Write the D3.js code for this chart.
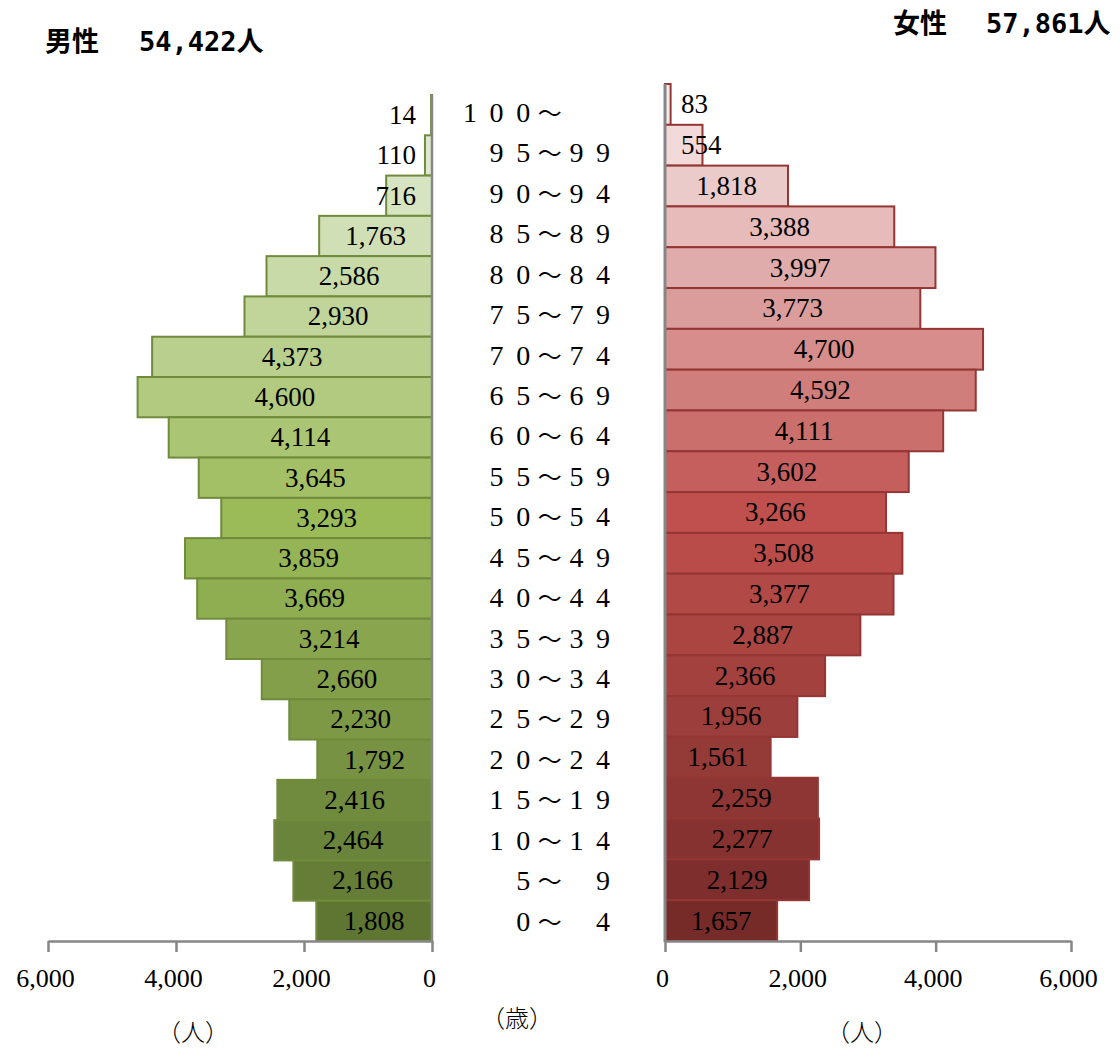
<!DOCTYPE html>
<html>
<head>
<meta charset="utf-8">
<script src="https://cdn.jsdelivr.net/npm/d3@7"></script>
<style>
  html, body { margin: 0; padding: 0; background: #fff; }
  svg { display: block; }
</style>
</head>
<body>
<svg id="chart" width="1120" height="1052"></svg>
<script>
// ---- données (haut -> bas) ----
const ageGroups = [
  "１００～　　", "９５～９９", "９０～９４", "８５～８９", "８０～８４", "７５～７９",
  "７０～７４", "６５～６９", "６０～６４", "５５～５９", "５０～５４", "４５～４９",
  "４０～４４", "３５～３９", "３０～３４", "２５～２９", "２０～２４", "１５～１９",
  "１０～１４", "５～　９", "０～　４"
];
const maleValues = [14, 110, 716, 1763, 2586, 2930, 4373, 4600, 4114, 3645, 3293,
  3859, 3669, 3214, 2660, 2230, 1792, 2416, 2464, 2166, 1808];
const femaleValues = [83, 554, 1818, 3388, 3997, 3773, 4700, 4592, 4111, 3602, 3266,
  3508, 3377, 2887, 2366, 1956, 1561, 2259, 2277, 2129, 1657];
const xTicks = [0, 2000, 4000, 6000];
const maleTitle = ["男性", "54,422", "人"];
const femaleTitle = ["女性", "57,861", "人"];

const svg = d3.select("#chart");
const fmt = d3.format(",");
const serif = "'Liberation Serif', 'DejaVu Serif', serif";
const gothic = "'Noto Sans CJK JP', 'Noto Sans', sans-serif";
const mono = "'DejaVu Sans Mono', 'Liberation Mono', monospace";

// ---- échelles ----
const xL = d3.scaleLinear().domain([0, 6000]).range([432, 48]);
const xR = d3.scaleLinear().domain([0, 6000]).range([665, 1071]);
const yL = d3.scaleBand().domain(d3.range(ageGroups.length)).range([95, 941]);
const yR = d3.scaleBand().domain(d3.range(ageGroups.length)).range([84, 941]);
const yAge = d3.scaleBand().domain(d3.range(ageGroups.length)).range([92, 941]);

const colorL = d3.scaleLinear().domain([0, 10, 20])
  .range(["#e6eedc", "#9bbb59", "#5f7633"]).interpolate(d3.interpolateRgb);
const colorR = d3.scaleLinear().domain([0, 10, 20])
  .range(["#f6e9e9", "#c0504d", "#772b29"]).interpolate(d3.interpolateRgb);

// ---- barres ----
svg.append("g").selectAll("rect")
  .data(maleValues)
  .join("rect")
    .attr("x", d => xL(d))
    .attr("y", (d, i) => yL(i))
    .attr("width", d => xL(0) - xL(d))
    .attr("height", yL.bandwidth())
    .attr("fill", (d, i) => colorL(i))
    .attr("stroke", "#6f8b3b")
    .attr("stroke-width", 2);

svg.append("g").selectAll("rect")
  .data(femaleValues)
  .join("rect")
    .attr("x", xR(0))
    .attr("y", (d, i) => yR(i))
    .attr("width", d => xR(d) - xR(0))
    .attr("height", yR.bandwidth())
    .attr("fill", (d, i) => colorR(i))
    .attr("stroke", "#943634")
    .attr("stroke-width", 2);

// ---- axes ----
function styleAxis(g) {
  g.select(".domain").attr("stroke", "#868686").attr("stroke-width", 2.5);
  g.selectAll(".tick line").attr("stroke", "#868686").attr("stroke-width", 2.5);
  g.selectAll(".tick text")
    .attr("y", 0).attr("dy", 0)
    .attr("transform", "translate(-3,46)")
    .style("font-family", serif)
    .style("font-size", "26px")
    .attr("fill", "#000");
}

svg.append("g")
  .attr("transform", "translate(0,941)")
  .call(d3.axisBottom(xL).tickValues(xTicks).tickFormat(fmt).tickSize(11).tickSizeOuter(0))
  .call(styleAxis);

svg.append("g")
  .attr("transform", "translate(0,941)")
  .call(d3.axisBottom(xR).tickValues(xTicks).tickFormat(fmt).tickSize(11).tickSizeOuter(0))
  .call(styleAxis);

svg.append("line")
  .attr("x1", xL(0)).attr("x2", xL(0)).attr("y1", yL.range()[0]).attr("y2", 942)
  .attr("stroke", "#868686").attr("stroke-width", 2.5);
svg.append("line")
  .attr("x1", xR(0)).attr("x2", xR(0)).attr("y1", yR.range()[0]).attr("y2", 942)
  .attr("stroke", "#868686").attr("stroke-width", 3);

// ---- étiquettes des barres ----
function addBarLabels(values, x, y, side) {
  const labels = svg.append("g").selectAll("text")
    .data(values)
    .join("text")
      .attr("y", (d, i) => y(i) + y.bandwidth() / 2)
      .attr("dy", "0.33em")
      .attr("text-anchor", "middle")
      .style("font-family", serif)
      .style("font-size", "27px")
      .attr("fill", "#000")
      .text(fmt);

  labels.attr("x", function(d) {
    const w = this.getComputedTextLength();
    let cx = (x(0) + x(d)) / 2;
    if (side === "left") cx = Math.min(cx, x(0) - 16 - w / 2);
    else cx = Math.max(cx, x(0) + 16 + w / 2);
    return cx;
  });
}
addBarLabels(maleValues, xL, yL, "left");
addBarLabels(femaleValues, xR, yR, "right");

// ---- classes d'âge (une case par caractère pleine chasse) ----
const cellStart = 470, cellStep = 26.6, cellCount = 6;
const ageText = svg.append("g").selectAll("text")
  .data(ageGroups)
  .join("text")
    .attr("y", (d, i) => yAge(i) + yAge.bandwidth() / 2)
    .attr("dy", "0.35em")
    .style("font-size", "28px")
    .attr("fill", "#000");

ageText.each(function(label) {
  const chars = Array.from(label);
  const offset = cellCount - chars.length;
  const t = d3.select(this);
  chars.forEach((c, k) => {
    if (c === "　") return;
    const code = c.charCodeAt(0);
    const isDigit = code >= 0xFF10 && code <= 0xFF19;
    t.append("tspan")
      .attr("x", cellStart + cellStep * (offset + k))
      .attr("text-anchor", "middle")
      .style("font-family", isDigit ? serif : gothic)
      .style("font-size", isDigit ? "28px" : "24px")
      .text(isDigit ? String.fromCharCode(code - 0xFEE0) : c);
  });
});

// ---- titres ----
function addTitle(parts, x0, x1, y) {
  const t = svg.append("text")
    .attr("y", y)
    .style("font-size", "27px")
    .attr("fill", "#000");
  t.append("tspan").attr("x", x0)
    .style("font-family", gothic).style("font-weight", 700)
    .text(parts[0]);
  t.append("tspan").attr("x", x1)
    .style("font-family", mono).style("font-weight", 700)
    .text(parts[1]);
  t.append("tspan")
    .style("font-family", gothic).style("font-weight", 700)
    .text(parts[2]);
}
addTitle(maleTitle, 45, 139, 51);
addTitle(femaleTitle, 893, 986, 33);

// ---- unités ----
const unitFont = "'Liberation Serif', 'Noto Sans CJK JP', serif";
svg.append("text")
  .attr("x", 193).attr("y", 1041).attr("text-anchor", "middle")
  .style("font-family", unitFont).style("font-size", "24px").style("font-weight", 300)
  .text("（人）");
svg.append("text")
  .attr("x", 862).attr("y", 1041).attr("text-anchor", "middle")
  .style("font-family", unitFont).style("font-size", "24px").style("font-weight", 300)
  .text("（人）");
svg.append("text")
  .attr("x", 517).attr("y", 1027).attr("text-anchor", "middle")
  .style("font-family", unitFont).style("font-size", "24px").style("font-weight", 300)
  .text("（歳）");
</script>
</body>
</html>
